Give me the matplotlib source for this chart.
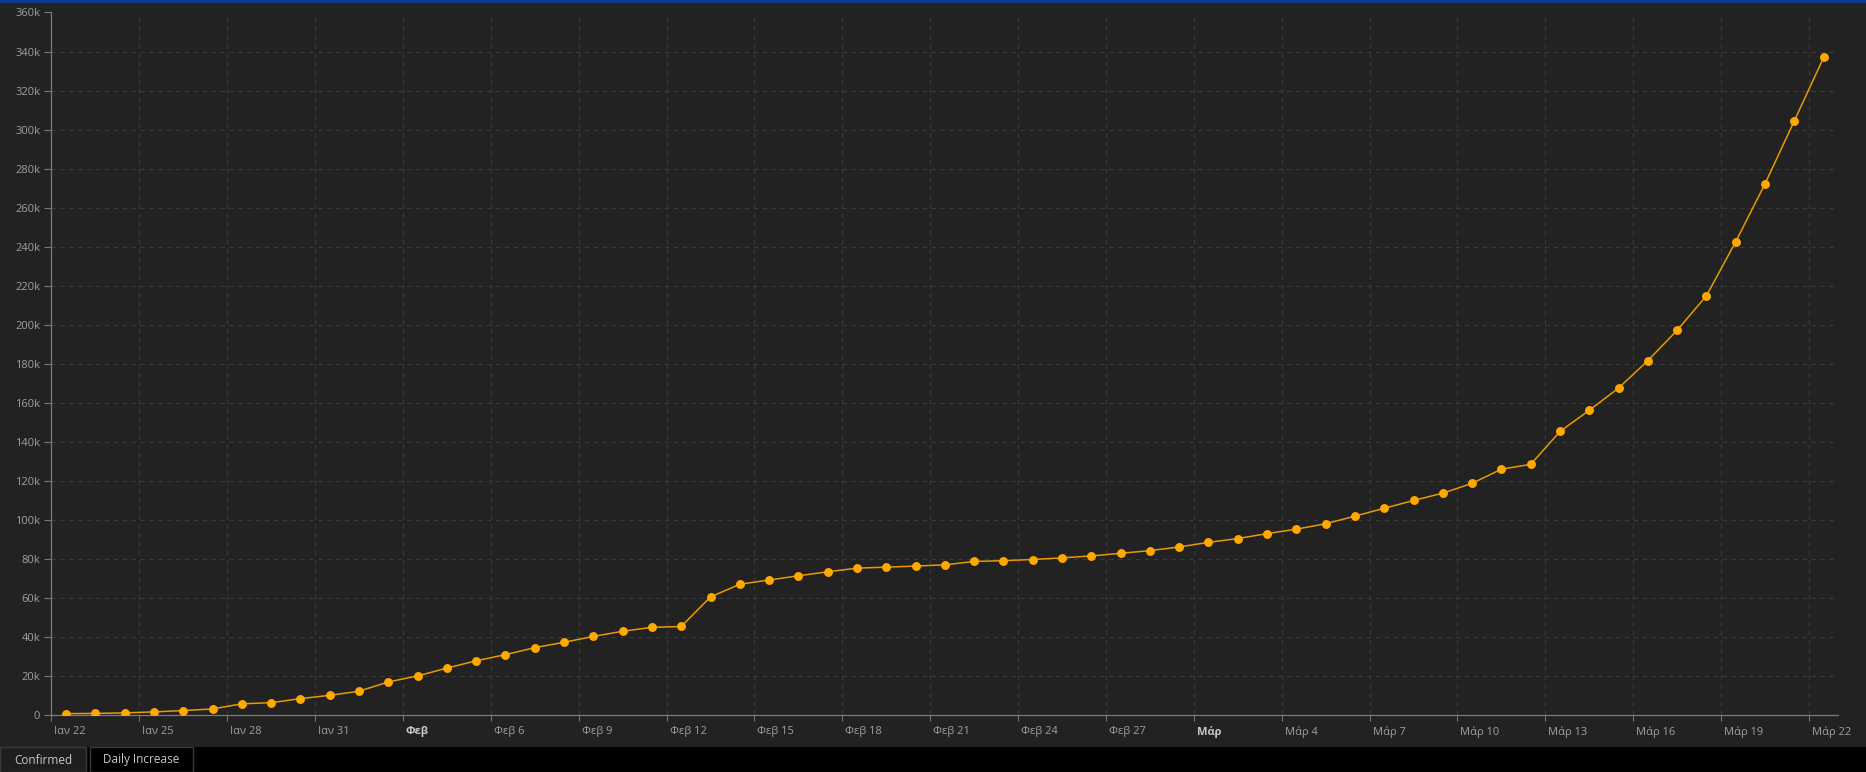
import matplotlib.pyplot as plt
import matplotlib.transforms as mtrans
from matplotlib.patches import Rectangle
import numpy as np

# Cumulative confirmed cases, one value per day from Ιαν 22 to Μάρ 22
confirmed = [
    555, 654, 941, 1434, 2118, 2927, 5578, 6166, 8234, 9927,
    12038, 16787, 19881, 23892, 27635, 30794, 34391, 37120, 40150, 42762,
    44802, 45221, 60368, 66885, 69030, 71224, 73258, 75136, 75639, 76197,
    76819, 78572, 78958, 79561, 80406, 81388, 82746, 84112, 86011, 88369,
    90306, 92840, 95120, 97886, 101801, 105847, 109821, 113590, 118620, 125875,
    128352, 145205, 156101, 167454, 181574, 197102, 214821, 242570, 272208, 304507,
    336953,
]
tick_labels = ['Ιαν 22', 'Ιαν 25', 'Ιαν 28', 'Ιαν 31', 'Φεβ', 'Φεβ 6', 'Φεβ 9',
               'Φεβ 12', 'Φεβ 15', 'Φεβ 18', 'Φεβ 21', 'Φεβ 24', 'Φεβ 27', 'Μάρ',
               'Μάρ 4', 'Μάρ 7', 'Μάρ 10', 'Μάρ 13', 'Μάρ 16', 'Μάρ 19', 'Μάρ 22']
bold_labels = ['Φεβ', 'Μάρ']
tabs = ['Confirmed', 'Daily Increase']

W, H = 1866, 772
plt.rcParams['font.family'] = ['Open Sans', 'DejaVu Sans']

fig = plt.figure(figsize=(W / 100, H / 100), dpi=100)
fig.patch.set_facecolor('#222222')

# top accent bar and bottom tab strip
fig.patches.append(Rectangle((0, 1 - 2.5 / H), 1, 2.5 / H, transform=fig.transFigure,
                             facecolor='#0b3a8c', edgecolor='none'))
fig.patches.append(Rectangle((0, 0), 1, 25 / H, transform=fig.transFigure,
                             facecolor='#000000', edgecolor='none'))
fig.patches.append(Rectangle((0, 0), 86 / W, 25 / H, transform=fig.transFigure,
                             facecolor='#1e1e1e', edgecolor='#3a3a3a', lw=1))
fig.patches.append(Rectangle((90 / W, 0), 103 / W, 25 / H, transform=fig.transFigure,
                             facecolor='#000000', edgecolor='#3a3a3a', lw=1))
fig.text(43 / W, 12 / H, tabs[0], color='#c8c8c8', fontsize=8.5, ha='center', va='center')
fig.text(141 / W, 12 / H, tabs[1], color='#c8c8c8', fontsize=8.5, ha='center', va='center')

left, right = 51.4, 1838.3
top, bottom = 12.5, 714.7
ax = fig.add_axes([left / W, (H - bottom) / H, (right - left) / W, (bottom - top) / H])
ax.set_facecolor('#222222')

x = np.arange(len(confirmed)) + 0.5
ax.plot(x, confirmed, color='#e89b00', lw=1.1, zorder=3)
ax.plot(x, confirmed, 'o', color='#ffa800', ms=5.4, mec='#ffa800', zorder=4)

ax.set_xlim(0, len(confirmed))
ax.set_ylim(0, 360000)

ticks = np.arange(0, len(confirmed), 3)
ax.set_xticks(ticks)
ax.set_xticklabels(tick_labels, ha='left')
ax.set_yticks(np.arange(0, 360001, 20000))
ax.set_yticklabels(['0' if v == 0 else f'{v // 1000}k' for v in range(0, 360001, 20000)])

ax.tick_params(axis='x', colors='#777777', labelcolor='#a0a0a0', labelsize=8,
               length=4, width=0.8, pad=4)
ax.tick_params(axis='y', colors='#777777', labelcolor='#a0a0a0', labelsize=8,
               length=5, width=0.8, pad=3)

# labels sit just right of their tick, month starts in bold
offset = mtrans.ScaledTranslation(3 / 100, 0, fig.dpi_scale_trans)
for lab in ax.get_xticklabels():
    lab.set_transform(lab.get_transform() + offset)
    if lab.get_text() in bold_labels:
        lab.set_fontweight('bold')
        lab.set_color('#c8c8c8')

ax.grid(True, color='#3b3b3b', linestyle=(0, (4, 4)), lw=0.8)
for side in ['top', 'right']:
    ax.spines[side].set_visible(False)
for side in ['left', 'bottom']:
    ax.spines[side].set_color('#7a7a7a')
    ax.spines[side].set_linewidth(0.9)

fig.savefig('out.png', dpi=100, facecolor=fig.get_facecolor())
